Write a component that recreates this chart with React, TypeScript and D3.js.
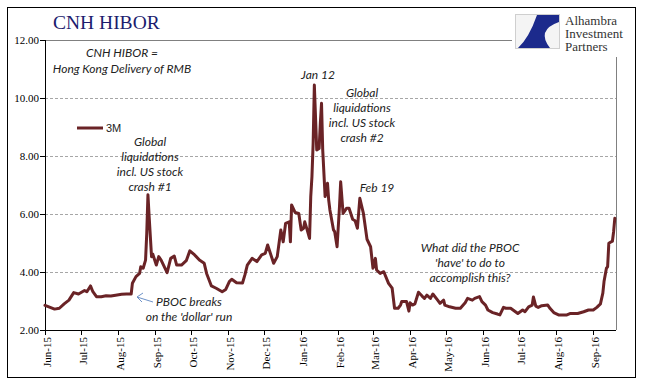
import React from "react";
import * as d3 from "d3";

const dates: string[] = [
  "2015-06-01","2015-06-09","2015-06-13","2015-06-17","2015-06-21","2015-06-25","2015-06-29","2015-07-04","2015-07-06","2015-07-09",
  "2015-07-11","2015-07-14","2015-07-18","2015-07-22","2015-07-26","2015-07-30","2015-08-04","2015-08-08","2015-08-12","2015-08-13",
  "2015-08-16","2015-08-19","2015-08-20","2015-08-22","2015-08-24","2015-08-25","2015-08-26","2015-08-27","2015-08-29","2015-08-30",
  "2015-09-02","2015-09-04","2015-09-06","2015-09-08","2015-09-11","2015-09-14","2015-09-17","2015-09-19","2015-09-23","2015-09-27",
  "2015-09-30","2015-10-04","2015-10-08","2015-10-12","2015-10-14","2015-10-18","2015-10-22","2015-10-27","2015-10-30","2015-11-02",
  "2015-11-04","2015-11-08","2015-11-13","2015-11-15","2015-11-17","2015-11-21","2015-11-25","2015-11-29","2015-12-02","2015-12-04",
  "2015-12-09","2015-12-12","2015-12-15","2015-12-17","2015-12-19","2015-12-22","2015-12-23","2015-12-24","2015-12-27","2015-12-30",
  "2016-01-01","2016-01-03","2016-01-04","2016-01-06","2016-01-08","2016-01-09","2016-01-10","2016-01-11","2016-01-12","2016-01-14",
  "2016-01-16","2016-01-17","2016-01-18","2016-01-19","2016-01-21","2016-01-23","2016-01-24","2016-01-25","2016-01-28","2016-01-29",
  "2016-01-31","2016-02-02","2016-02-03","2016-02-05","2016-02-08","2016-02-10","2016-02-13","2016-02-15","2016-02-17","2016-02-19",
  "2016-02-22","2016-02-25","2016-02-28","2016-03-01","2016-03-03","2016-03-04","2016-03-07","2016-03-10","2016-03-14","2016-03-17",
  "2016-03-19","2016-03-22","2016-03-24","2016-03-25","2016-03-29","2016-03-31","2016-04-01","2016-04-03","2016-04-05","2016-04-08",
  "2016-04-11","2016-04-13","2016-04-15","2016-04-18","2016-04-20","2016-04-24","2016-04-26","2016-04-29","2016-04-30","2016-05-04",
  "2016-05-09","2016-05-13","2016-05-17","2016-05-19","2016-05-23","2016-05-25","2016-05-29","2016-05-31","2016-06-03","2016-06-05",
  "2016-06-09","2016-06-13","2016-06-15","2016-06-18","2016-06-20","2016-06-24","2016-06-28","2016-06-30","2016-07-04","2016-07-06",
  "2016-07-09","2016-07-12","2016-07-13","2016-07-15","2016-07-17","2016-07-20","2016-07-25","2016-07-27","2016-07-30","2016-08-03",
  "2016-08-07","2016-08-10","2016-08-13","2016-08-19","2016-08-24","2016-08-28","2016-09-01","2016-09-04","2016-09-07","2016-09-09",
  "2016-09-10","2016-09-12","2016-09-13","2016-09-14","2016-09-16","2016-09-17","2016-09-18","2016-09-19"
];

const values3M: number[] = [
  2.85,2.72,2.75,2.90,3.03,3.29,3.24,3.36,3.32,3.52,
  3.32,3.15,3.15,3.18,3.17,3.20,3.23,3.24,3.24,3.61,
  3.84,3.95,4.18,4.13,4.41,5.33,6.66,5.91,4.53,4.62,
  4.24,4.53,4.41,4.24,3.98,4.47,4.55,4.24,4.24,4.39,
  4.73,4.59,4.41,4.30,3.95,3.52,3.44,3.32,3.40,3.67,
  3.75,3.63,3.62,3.90,4.24,4.47,4.36,4.59,4.64,4.93,
  4.30,4.53,5.45,5.04,5.68,5.73,5.04,6.31,6.05,6.02,
  5.45,5.51,5.73,5.45,5.16,6.60,7.29,8.44,10.45,8.21,
  8.26,9.13,9.82,8.21,6.60,7.06,6.48,6.14,5.45,5.39,
  4.87,6.25,7.11,6.02,6.20,6.20,5.82,5.77,5.51,6.54,
  6.02,5.13,4.87,4.13,4.47,4.07,3.95,4.01,3.61,3.44,
  2.75,2.75,2.86,2.98,2.98,2.65,2.94,2.86,2.90,3.30,
  3.17,3.09,3.20,3.09,3.24,3.03,2.92,3.03,2.86,2.80,
  2.75,2.75,2.94,3.09,3.03,3.09,3.15,2.98,2.86,2.69,
  2.60,2.55,2.52,2.78,2.75,2.75,2.63,2.57,2.69,2.63,
  2.80,2.86,3.14,2.82,2.78,2.84,2.86,2.74,2.60,2.52,
  2.52,2.52,2.57,2.57,2.63,2.69,2.69,2.78,2.90,3.27,
  3.67,4.13,4.18,4.99,5.04,5.06,5.39,5.85
];

const yTicks: number[] = [2, 4, 6, 8, 10, 12];
const monthTicks: string[] = [
  "2015-06-01","2015-07-01","2015-08-01","2015-09-01","2015-10-01","2015-11-01","2015-12-01","2016-01-01",
  "2016-02-01","2016-03-01","2016-04-01","2016-05-01","2016-06-01","2016-07-01","2016-08-01","2016-09-01"
];
const seriesName = "3M";
const titleText = "CNH HIBOR";
const note1: string[] = ["CNH HIBOR =", "Hong Kong Delivery of RMB"];
const note2: string[] = ["Global", "liquidations", "incl. US stock", "crash #1"];
const note3: string[] = ["Global", "liquidations", "incl. US stock", "crash #2"];
const note4: string[] = ["What did the PBOC", "'have' to do to", "accomplish this?"];
const note5: string[] = ["PBOC breaks", "on the 'dollar' run"];
const logoLines: string[] = ["Alhambra", "Investment", "Partners"];

const parse = d3.timeParse("%Y-%m-%d");
const fmt = d3.timeFormat("%b-%y");

export default function App() {
  const W = 645, H = 388;
  const left = 45, right = 616, top = 40, bottom = 330;
  const x = d3.scaleTime()
    .domain([parse("2015-06-01") as Date, parse("2016-09-20") as Date])
    .range([left, right]);
  const y = d3.scaleLinear().domain([2, 12]).range([bottom, top]);
  const data = dates.map((d, i) => ({ d: parse(d) as Date, v: values3M[i] }));
  const line = d3.line<{ d: Date; v: number }>()
    .x((p) => x(p.d))
    .y((p) => y(p.v))
    .curve(d3.curveLinear);

  const lineColor = "#6a2326";
  const noteFont = "Lato, 'Open Sans', sans-serif";
  const serif = "'Liberation Serif', 'DejaVu Serif', serif";
  const noteSize = 12;

  const noteBlock = (lines: string[], cx: number, y0: number, dy: number, key: string) => (
    <text key={key} fontFamily={noteFont} fontStyle="italic" fontSize={noteSize} fill="#222" textAnchor="middle">
      {lines.map((t, i) => (
        <tspan key={i} x={cx} y={y0 + i * dy}>{t}</tspan>
      ))}
    </text>
  );

  return (
    <svg width={W} height={H} style={{ position: "absolute", left: 0, top: 0, background: "#fff" }}>
      <rect x={7.5} y={7.5} width={628} height={370} fill="#fff" stroke="#000" strokeWidth={1} />

      {/* gridlines */}
      {yTicks.filter((t) => t > 2 && t < 12).map((t) => (
        <line key={"g" + t} x1={left} x2={right} y1={Math.round(y(t)) + 0.5} y2={Math.round(y(t)) + 0.5}
          stroke="#a6a6a6" strokeDasharray="3,2" strokeWidth={1} />
      ))}
      {/* plot frame top & right */}
      <line x1={left} x2={right} y1={top + 0.5} y2={top + 0.5} stroke="#808080" />
      <line x1={right + 0.5} x2={right + 0.5} y1={top} y2={bottom} stroke="#808080" />

      {/* y axis */}
      <line x1={left + 0.5} x2={left + 0.5} y1={top} y2={bottom} stroke="#000" />
      {yTicks.map((t) => (
        <g key={"y" + t}>
          <line x1={left - 5} x2={left} y1={Math.round(y(t)) + 0.5} y2={Math.round(y(t)) + 0.5} stroke="#000" />
          <text x={39} y={y(t)} dy="0.35em" textAnchor="end" fontFamily={serif} fontSize={11} fill="#000">
            {t.toFixed(2)}
          </text>
        </g>
      ))}

      {/* x axis */}
      <line x1={left} x2={right} y1={bottom + 0.5} y2={bottom + 0.5} stroke="#000" />
      {monthTicks.map((m) => {
        const tx = Math.round(x(parse(m) as Date)) + 0.5;
        return (
          <g key={"x" + m}>
            <line x1={tx} x2={tx} y1={bottom} y2={bottom + 5} stroke="#000" />
            <text transform={`translate(${tx + 2},337) rotate(-90)`} dy="0.35em" textAnchor="end"
              fontFamily={serif} fontSize={11} fill="#000">
              {fmt(parse(m) as Date)}
            </text>
          </g>
        );
      })}

      {/* series */}
      <path d={line(data) || ""} fill="none" stroke={lineColor} strokeWidth={3} strokeLinejoin="round" strokeLinecap="round" />

      {/* legend */}
      <line x1={77} x2={103} y1={128} y2={128} stroke={lineColor} strokeWidth={3} />
      <text x={106} y={128} dy="0.35em" fontFamily="'Liberation Sans', Arial, sans-serif" fontSize={11} fill="#222">{seriesName}</text>

      {/* title */}
      <text x={53} y={29} fontFamily={serif} fontSize={19.5} fill="#1c1c6e">{titleText}</text>

      {/* annotations */}
      {noteBlock(note1, 122, 57, 16, "n1")}
      {noteBlock(note2, 150, 146, 15, "n2")}
      <text x={318} y={79} textAnchor="middle" fontFamily={noteFont} fontStyle="italic" fontSize={noteSize} fill="#222">Jan 12</text>
      {noteBlock(note3, 362, 97, 15, "n3")}
      <text x={377} y={192} textAnchor="middle" fontFamily={noteFont} fontStyle="italic" fontSize={noteSize} fill="#222">Feb 19</text>
      {noteBlock(note4, 470, 252, 15, "n4")}
      {noteBlock(note5, 189, 306, 15, "n5")}

      {/* arrow */}
      <g stroke="#6f93c8" strokeWidth={1} fill="none">
        <line x1={153} y1={302} x2={137} y2={297} />
        <polyline points="143,293 137,297 142,302" />
      </g>

      {/* logo */}
      <rect x={512} y={8} width={123} height={49} fill="#fff" />
      <rect x={515.5} y={14.5} width={44} height={34} fill="#f4f4f4" stroke="#cfcfcf" />
      <path d="M537,15 L559,15 L559,22 Q536,30 550,48 L518,48 Q529,38 537,15 Z" fill="#1c2a8c" />
      <text fontFamily={serif} fontSize={13} fill="#333">
        {logoLines.map((t, i) => (
          <tspan key={i} x={565} y={25 + i * 13}>{t}</tspan>
        ))}
      </text>
    </svg>
  );
}
